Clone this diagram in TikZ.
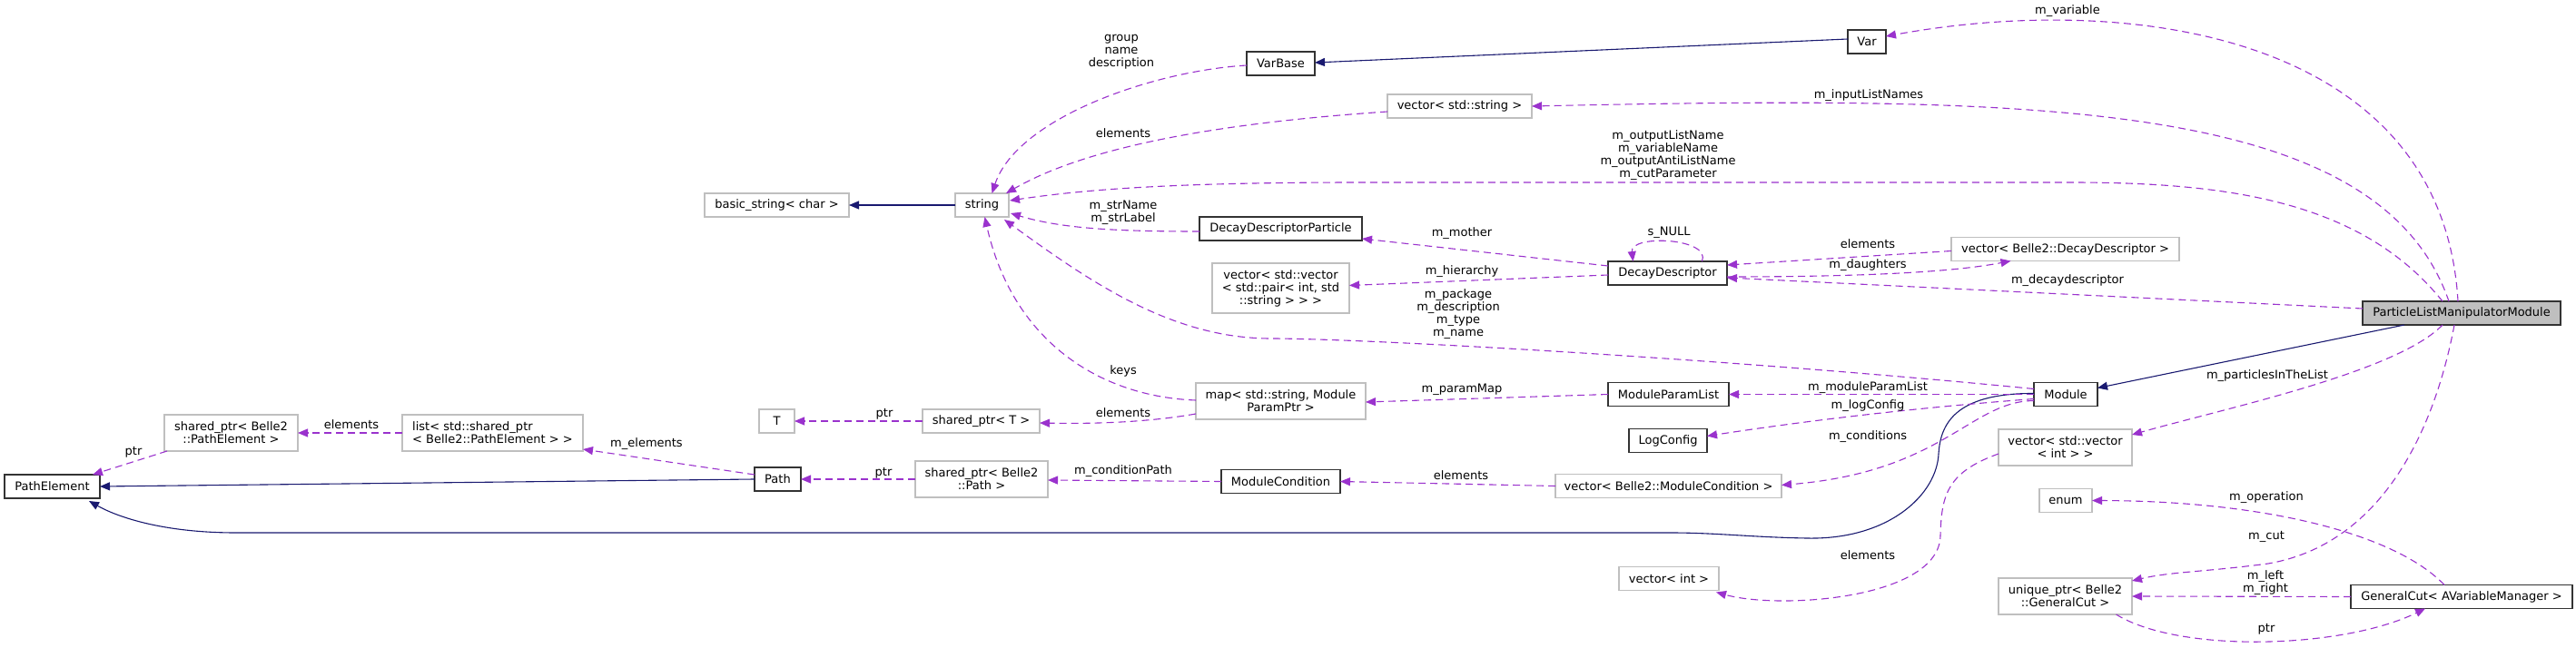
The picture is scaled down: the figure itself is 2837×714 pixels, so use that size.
\documentclass[tikz,border=0pt]{standalone}
\usepackage{fontspec}
\setmainfont{DejaVu Sans}
\usetikzlibrary{arrows.meta,calc}
\definecolor{dorchid}{HTML}{9A32CD}
\definecolor{mblue}{HTML}{191970}
\definecolor{gborder}{HTML}{BFBFBF}
\begin{document}
\begin{tikzpicture}[x=1pt,y=-1pt,font=\fontsize{13}{14}\selectfont,
  box/.style={rectangle,inner sep=0pt,outer sep=0pt,align=center,fill=white},
  cls/.style={box,draw=black!80,line width=1.2pt},
  ext/.style={box,draw=gborder,line width=1.2pt},
  mainbox/.style={box,draw=black!80,line width=1.2pt,fill=gborder},
  lbl/.style={inner sep=0pt,align=center},
  dep/.style={draw=dorchid,dash pattern=on 8pt off 5pt,line width=1.1pt,-{Triangle[length=11pt,width=9pt,fill=dorchid]}},
  inh/.style={draw=mblue,line width=1.1pt,-{Triangle[length=11pt,width=9pt,fill=mblue]}}]
\fill[white] (0,0) rectangle (2837,714);
\useasboundingbox (0,0) rectangle (2837,714);

% nodes
\node[cls,minimum width=105pt,minimum height=26pt] (pe) at (57.5,536) {PathElement};
\node[ext,minimum width=147pt,minimum height=40pt] (sPE) at (254.5,477) {shared\_ptr< Belle2\\::PathElement >};
\node[ext,minimum width=199pt,minimum height=40pt,align=left] (lPE) at (542.5,477) {list< std::shared\_ptr\\< Belle2::PathElement > >};
\node[ext,minimum width=39pt,minimum height=26pt] (T) at (855.5,464) {T};
\node[cls,minimum width=51pt,minimum height=26pt] (path) at (856.5,528) {Path};
\node[ext,minimum width=159pt,minimum height=26pt] (bs) at (855.5,226) {basic\_string< char >};
\node[ext,minimum width=59pt,minimum height=26pt] (str) at (1081.5,226) {string};
\node[ext,minimum width=129pt,minimum height=26pt] (sT) at (1080.5,464) {shared\_ptr< T >};
\node[ext,minimum width=146pt,minimum height=40pt] (sPath) at (1081,528) {shared\_ptr< Belle2\\::Path >};
\node[cls,minimum width=75pt,minimum height=26pt] (vb) at (1410.5,70) {VarBase};
\node[cls,minimum width=179pt,minimum height=26pt] (ddp) at (1410.5,252) {DecayDescriptorParticle};
\node[ext,minimum width=151pt,minimum height=55pt] (vv) at (1410.5,317.5) {vector< std::vector\\< std::pair< int, std\\::string > > >};
\node[ext,minimum width=187pt,minimum height=40pt] (map) at (1410.5,442) {map< std::string, Module\\ParamPtr >};
\node[cls,minimum width=131pt,minimum height=26pt] (mc) at (1410.5,530.5) {ModuleCondition};
\node[ext,minimum width=159pt,minimum height=26pt] (vs) at (1607.5,117) {vector< std::string >};
\node[cls,minimum width=131pt,minimum height=26pt] (dd) at (1836.5,301) {DecayDescriptor};
\node[cls,minimum width=133pt,minimum height=26pt] (mpl) at (1837.5,434.5) {ModuleParamList};
\node[cls,minimum width=86pt,minimum height=26pt] (lc) at (1837,485.5) {LogConfig};
\node[ext,minimum width=249pt,minimum height=26pt] (vmc) at (1837.5,535.5) {vector< Belle2::ModuleCondition >};
\node[ext,minimum width=110pt,minimum height=26pt] (vi) at (1838,637.5) {vector< int >};
\node[cls,minimum width=42pt,minimum height=26pt] (var) at (2056,46) {Var};
\node[ext,minimum width=251pt,minimum height=26pt] (vdd) at (2274.5,274.5) {vector< Belle2::DecayDescriptor >};
\node[cls,minimum width=70pt,minimum height=26pt] (mod) at (2275,434.5) {Module};
\node[ext,minimum width=147pt,minimum height=40pt] (vvi) at (2274.5,493) {vector< std::vector\\< int > >};
\node[ext,minimum width=58pt,minimum height=26pt] (enum) at (2275,551.5) {enum};
\node[ext,minimum width=147pt,minimum height=40pt] (ugc) at (2274.5,657) {unique\_ptr< Belle2\\::GeneralCut >};
\node[mainbox,minimum width=218pt,minimum height=26pt] (plmm) at (2711,345) {ParticleListManipulatorModule};
\node[cls,minimum width=244pt,minimum height=26pt] (gc) at (2711,657.5) {GeneralCut< AVariableManager >};

% inheritance
\draw[inh] (str.west) -- (bs.east);
\draw[inh] ($(var.west)+(0,-3)$) -- ($(vb.east)+(0,-1)$);
\draw[inh] (path.west) -- (pe.east);
\draw[inh] ($(plmm.south west)+(46,0)$) -- ($(mod.east)+(0,-7)$);
\draw[inh] ($(mod.west)+(0,-1)$) .. controls (2150,433) and (2137,470) .. (2135,500)
  .. controls (2133,545) and (2080,595) .. (1990,593)
  .. controls (1930,592) and (1890,587) .. (1840,587) -- (260,587)
  .. controls (180,587) and (130,570) .. ($(pe.south east)+(-12,3)$);

% usage
\draw[dep] ($(sPE.south west)+(3,0)$) -- ($(pe.north east)+(-8,0)$);
\draw[dep] (lPE.west) -- (sPE.east);
\draw[dep] ($(path.west)+(0,-5)$) -- ($(lPE.east)+(0,18)$);
\draw[dep] (sT.west) -- (T.east);
\draw[dep] (sPath.west) -- (path.east);
\draw[dep] ($(map.west)+(0,14)$) .. controls (1260,466) and (1200,467) .. ($(sT.east)+(0,2)$);
\draw[dep] ($(map.west)+(0,-1)$) .. controls (1210,437) and (1115,375) .. ($(str.south)+(3,0)$);
\draw[dep] (mpl.west) -- ($(map.east)+(0,1)$);
\draw[dep] (mc.west) -- ($(sPath.east)+(0,1)$);
\draw[dep] (vmc.west) -- (mc.east);
\draw[dep] (mod.west) -- (mpl.east);
\draw[dep] ($(mod.west)+(0,5)$) .. controls (2100,450) and (1980,465) .. ($(lc.east)+(0,-5)$);
\draw[dep] ($(mod.west)+(0,7)$) .. controls (2170,442) and (2140,520) .. ($(vmc.east)+(0,-1)$);
\draw[dep] ($(mod.west)+(0,-6)$) .. controls (1900,395) and (1500,373) .. (1400,373)
  .. controls (1290,373) and (1200,310) .. ($(str.south east)+(-5,3)$);
\draw[dep] ($(ddp.west)+(0,3)$) .. controls (1230,255) and (1170,252) .. ($(str.east)+(2,9)$);
\draw[dep] ($(vs.west)+(0,6)$) .. controls (1350,135) and (1200,160) .. ($(str.north east)+(-3,0)$);
\draw[dep] ($(vb.west)+(0,2)$) .. controls (1270,78) and (1120,130) .. ($(str.north)+(11,0)$);
\draw[dep] ($(dd.west)+(0,-8)$) -- ($(ddp.east)+(0,11)$);
\draw[dep] ($(dd.west)+(0,2)$) -- ($(vv.east)+(0,-3)$);
\draw[dep] ($(dd.north)+(38,0)$) .. controls (1885,262) and (1795,258) .. ($(dd.north)+(-38,0)$);
\draw[dep] ($(vdd.west)+(0,2)$) -- ($(dd.east)+(0,-9)$);
\draw[dep] ($(dd.east)+(0,4)$) .. controls (2050,305) and (2150,300) .. ($(vdd.south)+(-60,0)$);
\draw[dep] ($(plmm.west)+(0,-5)$) -- ($(dd.east)+(0,5)$);
\draw[dep] ($(plmm.north)+(-4,0)$) .. controls (2690,40) and (2350,-10) .. ($(var.east)+(0,-6)$);
\draw[dep] ($(plmm.north)+(-14,0)$) .. controls (2620,110) and (2250,105) .. (vs.east);
\draw[dep] ($(plmm.north)+(-21,0)$) .. controls (2600,220) and (2450,201) .. (2280,201) -- (1500,201)
  .. controls (1300,201) and (1200,208) .. ($(str.east)+(1,-5)$);
\draw[dep] ($(plmm.south)+(-21,0)$) .. controls (2640,410) and (2450,450) .. ($(vvi.east)+(0,-14)$);
\draw[dep] ($(plmm.south)+(-8,0)$) .. controls (2680,480) and (2620,600) .. (2498,621)
  .. controls (2430,630) and (2390,630) .. ($(ugc.east)+(0,-17)$);
\draw[dep] ($(vvi.west)+(0,7)$) .. controls (2145,520) and (2138,545) .. (2137,590)
  .. controls (2136,660) and (1960,672) .. ($(vi.south east)+(-3,2)$);
\draw[dep] ($(gc.north)+(-19,0)$) .. controls (2640,590) and (2500,552) .. (enum.east);
\draw[dep] (gc.west) -- (ugc.east);
\draw[dep] ($(ugc.south)+(56,0)$) .. controls (2400,720) and (2580,715) .. ($(gc.south)+(-40,0)$);

% labels
\node[lbl] (l1) at (147,498) {ptr};
\node[lbl] (l2) at (387,468) {elements};
\node[lbl] (l3) at (712,489) {m\_elements};
\node[lbl] (l4) at (974,456) {ptr};
\node[lbl] (l5) at (973,521) {ptr};
\node[lbl] (l6) at (1235,57) {group\\name\\description};
\node[lbl] (l7) at (1237,147) {elements};
\node[lbl] (l8) at (1237,234) {m\_strName\\m\_strLabel};
\node[lbl] (l9) at (1237,409) {keys};
\node[lbl] (l10) at (1237,455) {elements};
\node[lbl] (l11) at (1237,519) {m\_conditionPath};
\node[lbl] (l12) at (1610,257) {m\_mother};
\node[lbl] (l13) at (1610,299) {m\_hierarchy};
\node[lbl] (l14) at (1606,346) {m\_package\\m\_description\\m\_type\\m\_name};
\node[lbl] (l15) at (1610,429) {m\_paramMap};
\node[lbl] (l16) at (1609,524) {elements};
\node[lbl] (l17) at (1837,171) {m\_outputListName\\m\_variableName\\m\_outputAntiListName\\m\_cutParameter};
\node[lbl] (l18) at (1838,256) {s\_NULL};
\node[lbl] (l19) at (2058,105) {m\_inputListNames};
\node[lbl] (l20) at (2277,12) {m\_variable};
\node[lbl] (l21) at (2057,269) {elements};
\node[lbl] (l22) at (2057,292) {m\_daughters};
\node[lbl] (l23) at (2277,309) {m\_decaydescriptor};
\node[lbl] (l24) at (2057,427) {m\_moduleParamList};
\node[lbl] (l25) at (2057,447) {m\_logConfig};
\node[lbl] (l26) at (2057,481) {m\_conditions};
\node[lbl] (l27) at (2057,612) {elements};
\node[lbl] (l28) at (2497,414) {m\_particlesInTheList};
\node[lbl] (l29) at (2496,548) {m\_operation};
\node[lbl] (l30) at (2496,591) {m\_cut};
\node[lbl] (l31) at (2495,642) {m\_left\\m\_right};
\node[lbl] (l32) at (2496,693) {ptr};
\end{tikzpicture}
\end{document}
